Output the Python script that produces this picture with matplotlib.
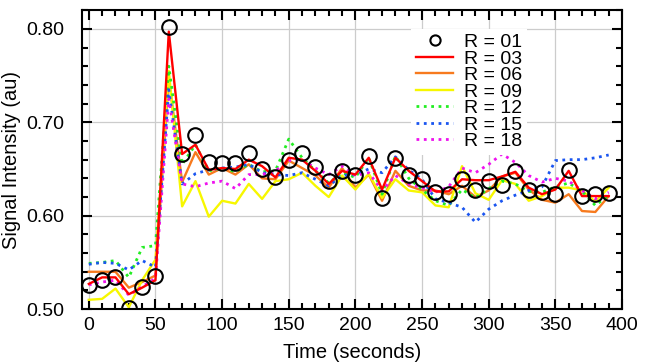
import matplotlib
matplotlib.use('Agg')
import matplotlib.pyplot as plt
from matplotlib.ticker import MultipleLocator

plt.rcParams['font.family'] = ['Liberation Sans', 'DejaVu Sans']

# time axis (seconds)
time = list(range(0, 400, 10))

r01 = [0.526, 0.531, 0.534, 0.501, 0.524, 0.535, 0.802, 0.666, 0.686, 0.658,
       0.656, 0.656, 0.667, 0.650, 0.641, 0.660, 0.667, 0.652, 0.637, 0.648,
       0.644, 0.664, 0.619, 0.662, 0.644, 0.639, 0.625, 0.623, 0.639, 0.627,
       0.637, 0.633, 0.648, 0.628, 0.625, 0.623, 0.649, 0.621, 0.623, 0.624]
r03 = [0.527, 0.534, 0.534, 0.516, 0.523, 0.531, 0.797, 0.666, 0.676, 0.649,
       0.651, 0.650, 0.660, 0.653, 0.641, 0.662, 0.660, 0.648, 0.634, 0.648,
       0.644, 0.662, 0.628, 0.662, 0.648, 0.637, 0.626, 0.626, 0.639, 0.638,
       0.638, 0.642, 0.647, 0.630, 0.623, 0.628, 0.648, 0.621, 0.621, 0.621]
r06 = [0.540, 0.540, 0.540, 0.523, 0.529, 0.536, 0.748, 0.636, 0.668, 0.644,
       0.651, 0.644, 0.655, 0.640, 0.639, 0.659, 0.651, 0.643, 0.630, 0.651,
       0.630, 0.644, 0.616, 0.648, 0.632, 0.627, 0.627, 0.623, 0.632, 0.620,
       0.627, 0.642, 0.646, 0.628, 0.617, 0.614, 0.623, 0.605, 0.604, 0.621]
r09 = [0.510, 0.511, 0.522, 0.502, 0.531, 0.553, 0.755, 0.610, 0.637, 0.599,
       0.616, 0.613, 0.634, 0.618, 0.637, 0.639, 0.646, 0.632, 0.620, 0.643,
       0.628, 0.645, 0.619, 0.639, 0.627, 0.625, 0.611, 0.609, 0.653, 0.624,
       0.617, 0.638, 0.634, 0.616, 0.621, 0.630, 0.630, 0.627, 0.615, 0.630]
r12 = [0.549, 0.550, 0.552, 0.534, 0.566, 0.568, 0.760, 0.655, 0.676, 0.648,
       0.651, 0.647, 0.655, 0.647, 0.648, 0.682, 0.662, 0.648, 0.635, 0.646,
       0.641, 0.662, 0.623, 0.664, 0.640, 0.628, 0.616, 0.611, 0.628, 0.619,
       0.629, 0.637, 0.634, 0.626, 0.625, 0.631, 0.635, 0.626, 0.611, 0.622]
r15 = [0.548, 0.550, 0.549, 0.542, 0.552, 0.545, 0.735, 0.634, 0.645, 0.649,
       0.651, 0.652, 0.655, 0.646, 0.644, 0.643, 0.646, 0.639, 0.632, 0.643,
       0.644, 0.650, 0.646, 0.663, 0.649, 0.639, 0.618, 0.614, 0.609, 0.593,
       0.607, 0.616, 0.622, 0.627, 0.631, 0.659, 0.660, 0.660, 0.662, 0.665]
r18 = [0.526, 0.529, 0.531, 0.515, 0.524, 0.533, 0.725, 0.634, 0.631, 0.635,
       0.637, 0.629, 0.644, 0.644, 0.648, 0.659, 0.660, 0.651, 0.644, 0.653,
       0.643, 0.646, 0.627, 0.643, 0.634, 0.630, 0.625, 0.631, 0.651, 0.646,
       0.655, 0.666, 0.657, 0.643, 0.636, 0.640, 0.637, 0.627, 0.618, 0.625]

fig = plt.figure(figsize=(6.52, 3.62), dpi=100)
ax = fig.add_axes([0.126, 0.146, 0.828, 0.826])

ax.plot(time, r01, 'o', mfc='none', mec='black', ms=10.5, mew=1.5, label='R = 01', zorder=5)
ax.plot(time, r03, '-', color='#ff0000', lw=1.7, label='R = 03', zorder=4)
ax.plot(time, r06, '-', color='#f77a1e', lw=1.7, label='R = 06')
ax.plot(time, r09, '-', color='#f7f700', lw=1.7, label='R = 09')
ax.plot(time, r12, ':', color='#22ee22', lw=2, label='R = 12')
ax.plot(time, r15, ':', color='#1a55f0', lw=2, label='R = 15')
ax.plot(time, r18, ':', color='#ee11ee', lw=2, label='R = 18')

ax.set_xlim(-5, 400)
ax.set_ylim(0.50, 0.82)
ax.xaxis.set_major_locator(MultipleLocator(50))
ax.xaxis.set_minor_locator(MultipleLocator(10))
ax.yaxis.set_major_locator(MultipleLocator(0.10))
ax.yaxis.set_minor_locator(MultipleLocator(0.02))
ax.yaxis.set_major_formatter(plt.FormatStrFormatter('%.2f'))

ax.tick_params(which='both', direction='in', top=True, right=True, width=1.5)
ax.tick_params(which='major', length=7)
ax.tick_params(which='minor', length=4)
ax.tick_params(axis='x', labelsize=14, pad=6)
ax.tick_params(axis='y', labelsize=14, pad=13)
for sp in ax.spines.values():
    sp.set_linewidth(1.5)

ax.grid(True, which='major', color='#cccccc', lw=0.9)
ax.set_axisbelow(True)

ax.set_xlabel('Time (seconds)', fontsize=14.5, labelpad=6)
ax.set_ylabel('Signal Intensity (au)', fontsize=14.5, labelpad=4)

leg = ax.legend(loc='upper left', bbox_to_anchor=(0.592, 0.97), fontsize=14,
                frameon=True, fancybox=False, edgecolor='none', facecolor='white',
                framealpha=1, borderpad=0.25, labelspacing=-0.06, handlelength=1.9,
                handletextpad=0.55, markerscale=0.7)

fig.savefig('out.png', dpi=100)
